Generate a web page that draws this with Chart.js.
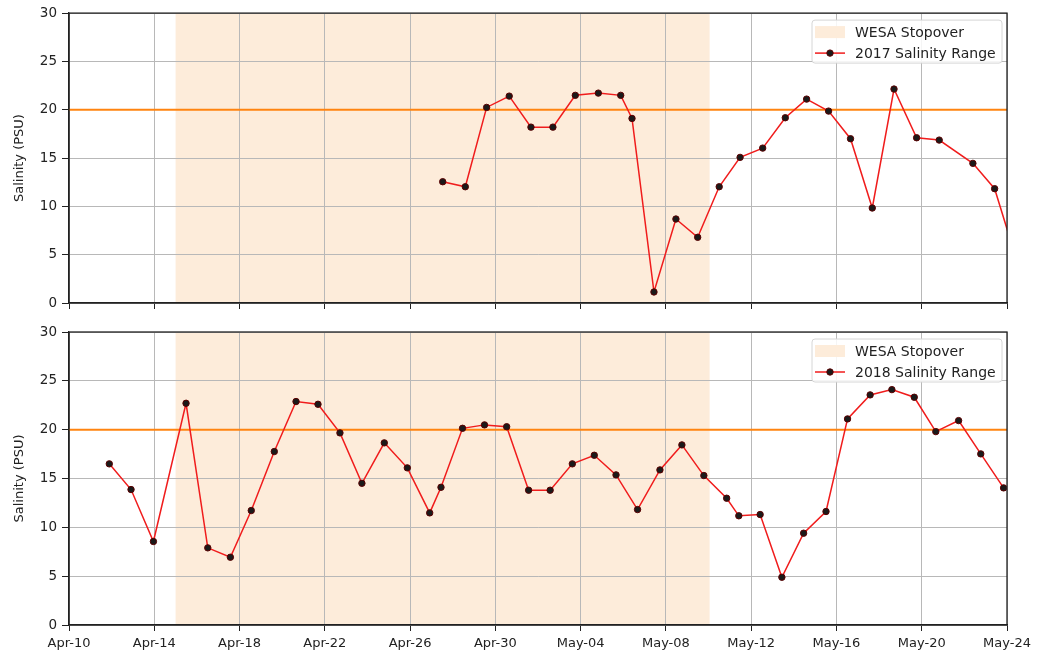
<!DOCTYPE html>
<html>
<head>
<meta charset="utf-8">
<script src="https://cdn.jsdelivr.net/npm/chart.js@4.4.0/dist/chart.umd.min.js"></script>
<style>
  body { margin: 0; background: #fff; }
  canvas { display: block; }
</style>
</head>
<body>
<canvas id="top" width="1038" height="318"></canvas>
<canvas id="bottom" width="1038" height="340"></canvas>
<script>
// x values are days since Apr-10
const xTickDays = [0, 4, 8, 12, 16, 20, 24, 28, 32, 36, 40, 44];
const xTickLabels = ['Apr-10', 'Apr-14', 'Apr-18', 'Apr-22', 'Apr-26', 'Apr-30',
                     'May-04', 'May-08', 'May-12', 'May-16', 'May-20', 'May-24'];
const yTicks = [0, 5, 10, 15, 20, 25, 30];

const stopover = [5, 30.05];       // Apr-15 .. May-10
const threshold = 20;

const days2017 = [17.53, 18.59, 19.59, 20.65, 21.67, 22.70, 23.75, 24.83, 25.88, 26.41,
                  27.44, 28.47, 29.49, 30.50, 31.48, 32.54, 33.60, 34.60, 35.63, 36.66,
                  37.68, 38.70, 39.76, 40.82, 42.40, 43.42, 44.40];
const sal2017 = [12.55, 12.03, 20.24, 21.41, 18.2, 18.2, 21.49, 21.72, 21.49, 19.1,
                 1.14, 8.69, 6.8, 12.03, 15.07, 16.03, 19.17, 21.1, 19.86, 17.0,
                 9.83, 22.14, 17.1, 16.86, 14.45, 11.83, 4.8];

const days2018 = [1.89, 2.91, 3.96, 5.49, 6.51, 7.57, 8.55, 9.63, 10.65, 11.68,
                  12.71, 13.74, 14.79, 15.87, 16.92, 17.45, 18.46, 19.49, 20.53, 21.56,
                  22.57, 23.61, 24.64, 25.66, 26.67, 27.72, 28.75, 29.78, 30.85, 31.42,
                  32.42, 33.44, 34.46, 35.51, 36.52, 37.58, 38.60, 39.65, 40.66, 41.73,
                  42.77, 43.84];
const sal2018 = [16.5, 13.87, 8.55, 22.7, 7.9, 6.94, 11.72, 17.76, 22.88, 22.6,
                 19.67, 14.51, 18.65, 16.09, 11.48, 14.1, 20.14, 20.49, 20.3, 13.8,
                 13.8, 16.5, 17.38, 15.37, 11.82, 15.88, 18.44, 15.3, 12.98, 11.18,
                 11.31, 4.89, 9.4, 11.62, 21.1, 23.56, 24.1, 23.32, 19.8, 20.93,
                 17.52, 14.04];

const FONT = 'DejaVu Sans';
const SHADE = '#fdecda';
const LINE_RED = '#f01c1c';

// span shading behind the grid
const shadePlugin = {
  id: 'shade',
  beforeDraw(chart) {
    const { ctx, chartArea: a, scales: { x } } = chart;
    const x1 = x.getPixelForValue(stopover[0]);
    const x2 = x.getPixelForValue(stopover[1]);
    ctx.save();
    ctx.fillStyle = SHADE;
    ctx.fillRect(x1, a.top, x2 - x1, a.bottom - a.top);
    ctx.restore();
  }
};

// full box + legend
const framePlugin = {
  id: 'frame',
  afterDraw(chart, args, opts) {
    const { ctx, chartArea: a } = chart;
    ctx.save();
    ctx.strokeStyle = '#222';
    ctx.lineWidth = 1.3;
    ctx.strokeRect(a.left, a.top, a.right - a.left, a.bottom - a.top);

    // legend box
    const bw = 190, bh = 43;
    const bx = a.right - 5 - bw, by = a.top + 7;
    ctx.beginPath();
    ctx.roundRect(bx, by, bw, bh, 3);
    ctx.fillStyle = 'rgba(255,255,255,0.85)';
    ctx.fill();
    ctx.strokeStyle = '#d6d6d6';
    ctx.lineWidth = 1;
    ctx.stroke();

    const r1 = by + 12, r2 = by + 33;
    ctx.fillStyle = SHADE;
    ctx.fillRect(bx + 3, r1 - 6, 30, 12);

    ctx.strokeStyle = LINE_RED;
    ctx.lineWidth = 1.5;
    ctx.beginPath();
    ctx.moveTo(bx + 3, r2);
    ctx.lineTo(bx + 33, r2);
    ctx.stroke();
    ctx.beginPath();
    ctx.arc(bx + 18, r2, 3.2, 0, Math.PI * 2);
    ctx.fillStyle = '#1a1a1a';
    ctx.fill();
    ctx.strokeStyle = '#5a0000';
    ctx.lineWidth = 1;
    ctx.stroke();

    ctx.fillStyle = '#222';
    ctx.font = '14px "' + FONT + '"';
    ctx.textBaseline = 'middle';
    ctx.textAlign = 'left';
    ctx.fillText('WESA Stopover', bx + 43, r1 + 1);
    ctx.fillText(opts.label, bx + 43, r2 + 1);
    ctx.restore();
  }
};

function makeChart(id, days, values, label, showX, padTop, xHeight) {
  const points = days.map((d, i) => ({ x: d, y: values[i] }));
  return new Chart(document.getElementById(id), {
    type: 'line',
    data: {
      datasets: [
        {
          data: points,
          borderColor: LINE_RED,
          borderWidth: 1.5,
          pointRadius: 3.2,
          pointBackgroundColor: '#1a1a1a',
          pointBorderColor: '#5a0000',
          pointBorderWidth: 1,
          tension: 0,
          clip: 0,
          order: 0
        },
        {
          data: [{ x: xTickDays[0], y: threshold }, { x: xTickDays[xTickDays.length - 1], y: threshold }],
          borderColor: '#ff8410',
          borderWidth: 2,
          pointRadius: 0,
          clip: 0,
          order: 1
        }
      ]
    },
    options: {
      responsive: false,
      animation: false,
      events: [],
      layout: { padding: { top: padTop, right: 31, left: 0, bottom: 0 } },
      plugins: {
        legend: { display: false },
        tooltip: { enabled: false },
        frame: { label: label }
      },
      scales: {
        x: {
          type: 'linear',
          min: xTickDays[0],
          max: xTickDays[xTickDays.length - 1],
          afterBuildTicks: s => { s.ticks = xTickDays.map(v => ({ value: v })); },
          afterFit: s => { s.height = xHeight; },
          grid: { color: '#b8b8b8', lineWidth: 1, tickColor: '#222', tickLength: 6 },
          border: { color: '#222', width: 1.3 },
          ticks: {
            display: showX,
            padding: 5,
            color: '#222',
            font: { family: FONT, size: 13 },
            maxRotation: 0,
            callback: (v, i) => xTickLabels[i]
          }
        },
        y: {
          min: yTicks[0],
          max: yTicks[yTicks.length - 1],
          afterBuildTicks: s => { s.ticks = yTicks.map(v => ({ value: v })); },
          afterFit: s => { s.width = 69; },
          grid: { color: '#b8b8b8', lineWidth: 1, tickColor: '#222', tickLength: 7 },
          border: { color: '#222', width: 1.3 },
          ticks: {
            padding: 5,
            color: '#222',
            font: { family: FONT, size: 13.5 }
          },
          title: {
            display: true,
            text: 'Salinity (PSU)',
            color: '#222',
            font: { family: FONT, size: 13 },
            padding: { top: 12, bottom: 0 }
          }
        }
      }
    },
    plugins: [shadePlugin, framePlugin]
  });
}

makeChart('top', days2017, sal2017, '2017 Salinity Range', false, 13, 15);
makeChart('bottom', days2018, sal2018, '2018 Salinity Range', true, 14, 33);
</script>
</body>
</html>
